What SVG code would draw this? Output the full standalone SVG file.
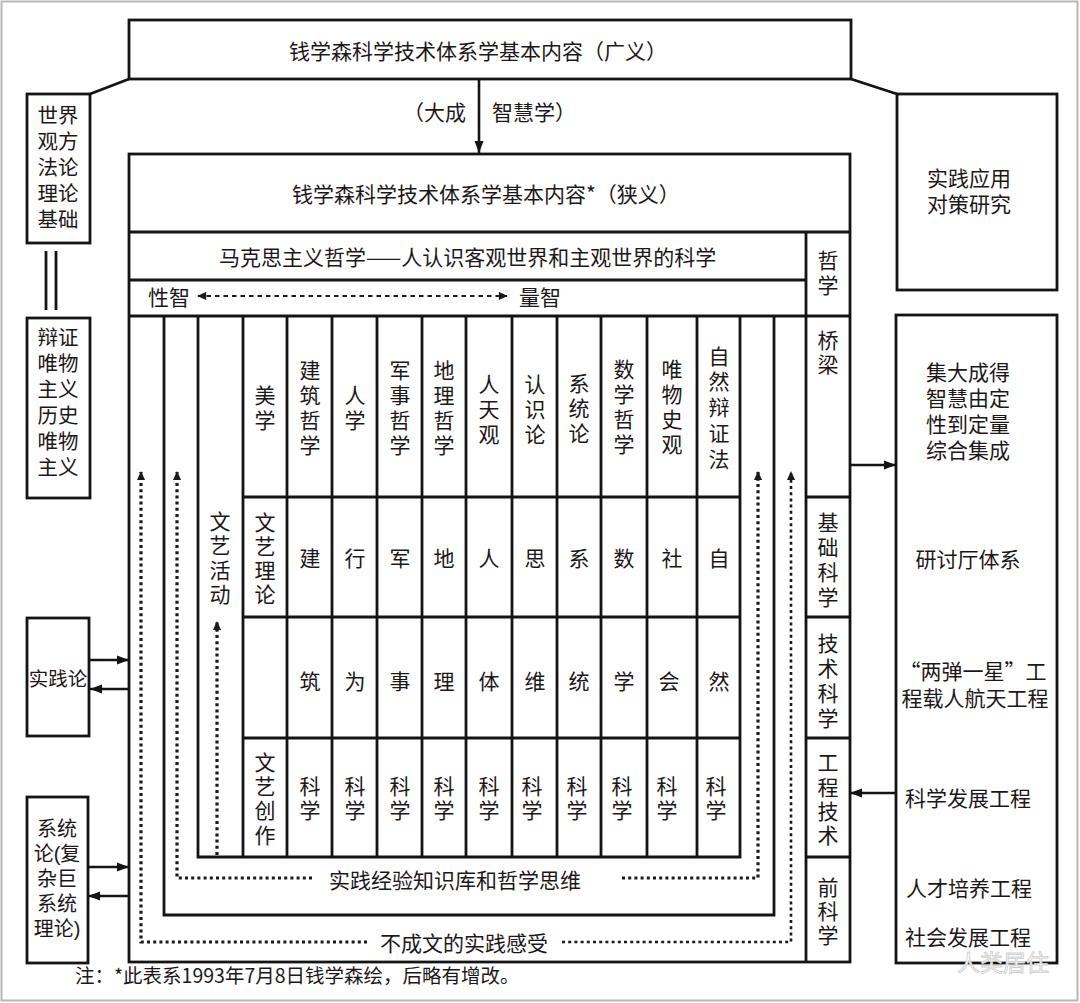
<svg xmlns="http://www.w3.org/2000/svg" width="1080" height="1003" viewBox="0 0 1080 1003">
<style>
.ln{fill:none;stroke:#141414;stroke-width:2.8}
.bx{fill:#fff;stroke:#141414;stroke-width:2.8}
.ar{fill:none;stroke:#141414;stroke-width:2.6}
.dt{fill:none;stroke:#1a1a1a;stroke-width:3.2;stroke-dasharray:3 3.2}
.t{font-family:"Noto Sans CJK SC","Noto Sans CJK JP",sans-serif;fill:#1c1819;font-size:21px;dominant-baseline:central}
.c{font-family:"Liberation Sans","Noto Sans CJK SC",sans-serif;fill:#1c1819;font-size:21px;dominant-baseline:central;text-anchor:middle}
.m{text-anchor:middle}
.s{text-anchor:start}
.e{text-anchor:end}
</style>
<defs>
<marker id="ah" viewBox="0 0 12 10" refX="12" refY="5" markerWidth="12" markerHeight="10" markerUnits="userSpaceOnUse" orient="auto">
<path d="M0,0.5 L12,5 L0,9.5 z" fill="#141414"/>
</marker>
<marker id="ahd" viewBox="0 0 10 10" refX="9" refY="5" markerWidth="10" markerHeight="9" markerUnits="userSpaceOnUse" orient="auto-start-reverse">
<path d="M0,0.5 L10,5 L0,9.5 z" fill="#1a1a1a"/>
</marker>
</defs>
<rect x="0" y="0" width="1080" height="1003" fill="#fff"/>
<rect x="1.5" y="1.5" width="1076" height="999" fill="none" stroke="#b8b8b8" stroke-width="2"/>

<g id="top-broad">
<rect class="bx" x="129" y="20" width="722" height="59"/>
<text class="t s" x="289" y="50">钱学森科学技术体系学基本内容（广义）</text>
</g>

<g id="left-worldview">
<rect class="bx" x="27" y="94" width="63" height="149"/>
<text class="c" style="font-size:20.5px"><tspan x="58" y="115">世界</tspan><tspan x="58" y="141">观方</tspan><tspan x="58" y="167">法论</tspan><tspan x="58" y="193">理论</tspan><tspan x="58" y="219">基础</tspan></text>
</g>

<g id="left-materialism">
<rect class="bx" x="27" y="318" width="63" height="180"/>
<text class="c" style="font-size:20.5px"><tspan x="58" y="337">辩证</tspan><tspan x="58" y="363">唯物</tspan><tspan x="58" y="389">主义</tspan><tspan x="58" y="415">历史</tspan><tspan x="58" y="441">唯物</tspan><tspan x="58" y="467">主义</tspan></text>
</g>

<g id="left-practice">
<rect class="bx" x="27" y="618" width="62" height="118"/>
<text class="t m" x="58" y="677" style="font-size:19.5px">实践论</text>
</g>

<g id="left-systems">
<rect class="bx" x="27" y="797" width="61" height="166"/>
<text class="c" style="font-size:20px"><tspan x="57" y="829">系统</tspan><tspan x="57" y="854">论(复</tspan><tspan x="57" y="879">杂巨</tspan><tspan x="57" y="904">系统</tspan><tspan x="57" y="929">理论)</tspan></text>
</g>

<g id="right-application">
<rect class="bx" x="897" y="94" width="160" height="196"/>
<text class="c"><tspan x="969" y="178">实践应用</tspan><tspan x="969" y="204">对策研究</tspan></text>
</g>

<g id="right-engineering">
<rect class="bx" x="896" y="315" width="161" height="648"/>
<text class="c"><tspan x="968" y="372">集大成得</tspan><tspan x="968" y="398">智慧由定</tspan><tspan x="968" y="424">性到定量</tspan><tspan x="968" y="450">综合集成</tspan></text>
<text class="t m" x="968" y="558">研讨厅体系</text>
<text class="t m" x="973"><tspan x="973" y="670">“两弹一星”工</tspan><tspan x="975" y="697">程载人航天工程</tspan></text>
<text class="t m" x="968" y="797">科学发展工程</text>
<text class="t m" x="969" y="887">人才培养工程</text>
<text class="c" x="968" y="937">社会发展工程</text>
</g>

<g id="main-narrow">
<rect class="bx" x="129" y="154" width="721" height="808"/>
<text class="t s" x="292" y="193">钱学森科学技术体系学基本内容*（狭义）</text>
<path class="ln" d="M129,232 H850 M129,280 H806 M129,316 H850 M806,232 V962"/>
<text class="t s" x="219" y="256">马克思主义哲学——人认识客观世界和主观世界的科学</text>
<text class="t s" x="148" y="296">性智</text>
<text class="t s" x="519" y="296">量智</text>
</g>

<g id="right-column">
<path class="ln" d="M806,497 H850 M806,617 H850 M806,738 H850 M806,857 H850"/>
<text class="c"><tspan x="828" y="260">哲</tspan><tspan x="828" y="285">学</tspan></text>
<text class="c"><tspan x="828" y="340">桥</tspan><tspan x="828" y="364">梁</tspan></text>
<text class="c"><tspan x="828" y="522">基</tspan><tspan x="828" y="547">础</tspan><tspan x="828" y="572">科</tspan><tspan x="828" y="597">学</tspan></text>
<text class="c"><tspan x="828" y="643">技</tspan><tspan x="828" y="668">术</tspan><tspan x="828" y="693">科</tspan><tspan x="828" y="718">学</tspan></text>
<text class="c"><tspan x="828" y="762">工</tspan><tspan x="828" y="787">程</tspan><tspan x="828" y="811">技</tspan><tspan x="828" y="835">术</tspan></text>
<text class="c"><tspan x="828" y="887">前</tspan><tspan x="828" y="911">科</tspan><tspan x="828" y="935">学</tspan></text>
</g>

<g id="frames">
<path class="ln" d="M164,316 V915 H774 V316"/>
<path class="ln" d="M198,316 V857 H740 V316"/>
</g>

<g id="grid">
<path class="ln" d="M243,316 V857 M287,316 V857 M332,316 V857 M377,316 V857 M422,316 V857 M466,316 V857 M512,316 V857 M557,316 V857 M601,316 V857 M647,316 V857 M697,316 V857"/>
<path class="ln" d="M243,497 H740 M243,617 H740 M243,738 H740"/>
</g>

<g id="row-philosophy">
<text class="c"><tspan x="265" y="395">美</tspan><tspan x="265" y="420">学</tspan></text>
<text class="c"><tspan x="310" y="370">建</tspan><tspan x="310" y="395">筑</tspan><tspan x="310" y="420">哲</tspan><tspan x="310" y="445">学</tspan></text>
<text class="c"><tspan x="355" y="395">人</tspan><tspan x="355" y="420">学</tspan></text>
<text class="c"><tspan x="400" y="370">军</tspan><tspan x="400" y="395">事</tspan><tspan x="400" y="420">哲</tspan><tspan x="400" y="445">学</tspan></text>
<text class="c"><tspan x="444" y="370">地</tspan><tspan x="444" y="395">理</tspan><tspan x="444" y="420">哲</tspan><tspan x="444" y="445">学</tspan></text>
<text class="c"><tspan x="489" y="384">人</tspan><tspan x="489" y="409">天</tspan><tspan x="489" y="434">观</tspan></text>
<text class="c"><tspan x="535" y="384">认</tspan><tspan x="535" y="409">识</tspan><tspan x="535" y="434">论</tspan></text>
<text class="c"><tspan x="579" y="383">系</tspan><tspan x="579" y="408">统</tspan><tspan x="579" y="433">论</tspan></text>
<text class="c"><tspan x="624" y="369">数</tspan><tspan x="624" y="394">学</tspan><tspan x="624" y="419">哲</tspan><tspan x="624" y="444">学</tspan></text>
<text class="c"><tspan x="672" y="369">唯</tspan><tspan x="672" y="394">物</tspan><tspan x="672" y="419">史</tspan><tspan x="672" y="444">观</tspan></text>
<text class="c"><tspan x="719" y="356">自</tspan><tspan x="719" y="381">然</tspan><tspan x="719" y="407">辩</tspan><tspan x="719" y="433">证</tspan><tspan x="719" y="459">法</tspan></text>
</g>

<g id="row-theory">
<text class="c"><tspan x="220" y="521">文</tspan><tspan x="220" y="545">艺</tspan><tspan x="220" y="570">活</tspan><tspan x="220" y="594">动</tspan></text>
<text class="c"><tspan x="265" y="522">文</tspan><tspan x="265" y="546">艺</tspan><tspan x="265" y="570">理</tspan><tspan x="265" y="594">论</tspan></text>
<text class="t m" x="310" y="557">建</text>
<text class="t m" x="355" y="557">行</text>
<text class="t m" x="400" y="557">军</text>
<text class="t m" x="444" y="557">地</text>
<text class="t m" x="489" y="557">人</text>
<text class="t m" x="535" y="557">思</text>
<text class="t m" x="579" y="557">系</text>
<text class="t m" x="624" y="557">数</text>
<text class="t m" x="672" y="557">社</text>
<text class="t m" x="719" y="557">自</text>
</g>

<g id="row-second">
<text class="t m" x="310" y="680">筑</text>
<text class="t m" x="355" y="680">为</text>
<text class="t m" x="400" y="680">事</text>
<text class="t m" x="444" y="680">理</text>
<text class="t m" x="489" y="680">体</text>
<text class="t m" x="535" y="680">维</text>
<text class="t m" x="579" y="680">统</text>
<text class="t m" x="624" y="680">学</text>
<text class="t m" x="669" y="680">会</text>
<text class="t m" x="719" y="680">然</text>
</g>

<g id="row-science">
<text class="c"><tspan x="265" y="762">文</tspan><tspan x="265" y="786">艺</tspan><tspan x="265" y="810">创</tspan><tspan x="265" y="835">作</tspan></text>
<text class="c"><tspan x="310" y="786">科</tspan><tspan x="310" y="810">学</tspan></text>
<text class="c"><tspan x="355" y="786">科</tspan><tspan x="355" y="810">学</tspan></text>
<text class="c"><tspan x="400" y="786">科</tspan><tspan x="400" y="810">学</tspan></text>
<text class="c"><tspan x="444" y="786">科</tspan><tspan x="444" y="810">学</tspan></text>
<text class="c"><tspan x="489" y="786">科</tspan><tspan x="489" y="810">学</tspan></text>
<text class="c"><tspan x="532" y="786">科</tspan><tspan x="532" y="810">学</tspan></text>
<text class="c"><tspan x="577" y="786">科</tspan><tspan x="577" y="810">学</tspan></text>
<text class="c"><tspan x="622" y="786">科</tspan><tspan x="622" y="810">学</tspan></text>
<text class="c"><tspan x="667" y="786">科</tspan><tspan x="667" y="810">学</tspan></text>
<text class="c"><tspan x="716" y="786">科</tspan><tspan x="716" y="810">学</tspan></text>
</g>

<g id="connectors">
<path class="ln" d="M129,79 L90,94 M851,79 L897,94"/>
<path class="ln" d="M46,251 V310 M56,251 V310"/>
<path class="ar" d="M479,79 V153" marker-end="url(#ah)"/>
<path class="ar" d="M850,465 H896" marker-end="url(#ah)"/>
<path class="ar" d="M896,793 H850" marker-end="url(#ah)"/>
<path class="ar" d="M89,660 H129" marker-end="url(#ah)"/>
<path class="ar" d="M129,689 H90" marker-end="url(#ah)"/>
<path class="ar" d="M88,867 H129" marker-end="url(#ah)"/>
<path class="ar" d="M129,896 H88" marker-end="url(#ah)"/>
<path class="dt" d="M198,296 H507" marker-start="url(#ahd)" marker-end="url(#ahd)" style="stroke-width:2.2;stroke-dasharray:4.5 4"/>
<path class="dt" d="M367,942 H141 V472" marker-end="url(#ahd)"/>
<path class="dt" d="M562,942 H791 V472" marker-end="url(#ahd)" style="stroke-width:2.6"/>
<path class="dt" d="M312,878 H177 V472" marker-end="url(#ahd)"/>
<path class="dt" d="M622,878 H758 V472" marker-end="url(#ahd)"/>
<path class="dt" d="M217,855 V622" marker-end="url(#ahd)"/>
</g>

<g id="labels">
<text class="t e" x="466" y="111">（大成</text>
<text class="t s" x="492" y="111">智慧学）</text>
<text class="t m" x="455" y="879">实践经验知识库和哲学思维</text>
<text class="t m" x="464" y="942">不成文的实践感受</text>
<text class="t s" x="75" y="974" style="font-size:19.5px">注：*此表系1993年7月8日钱学森绘，后略有增改。</text>
<text class="c" x="1003" y="963" style="font-size:23px;fill:#fff;stroke:#cfcfcf;stroke-width:0.9">人类居住</text>
</g>
</svg>
